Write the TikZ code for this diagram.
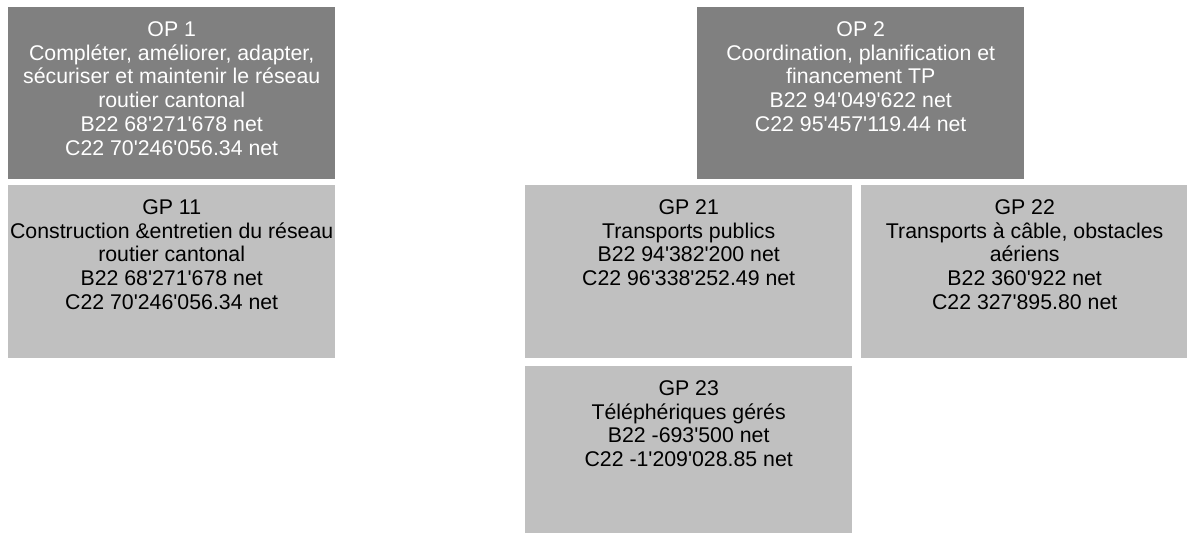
\documentclass[tikz,border=0pt]{standalone}
\usepackage{fontspec}
\setmainfont{Liberation Sans}[Ligatures=TeXOff]
\usetikzlibrary{positioning}

\definecolor{opgray}{HTML}{808080}
\definecolor{gpgray}{HTML}{C0C0C0}

\begin{document}
\begin{tikzpicture}[x=1pt, y=1pt,
    opbox/.style={fill=opgray, draw=none, anchor=north west, minimum width=327pt, minimum height=172pt, inner sep=0pt},
    gpbox/.style={fill=gpgray, draw=none, anchor=north west, minimum width=327pt, minimum height=173pt, inner sep=0pt},
    optext/.style={text=white, align=center, inner sep=0pt, font=\fontsize{21.3pt}{23.7pt}\selectfont},
    gptext/.style={text=black, align=center, inner sep=0pt, font=\fontsize{21.3pt}{23.7pt}\selectfont}]

            \useasboundingbox (0,0) rectangle (1187,-533);

            % Objectifs
            \node[opbox] (op1) at (8,-7) {};
            \node[opbox] (op2) at (697,-7) {};

            % Groupes de prestations
            \node[gpbox] (gp11) at (8,-185) {};
            \node[gpbox] (gp21) at (525,-185) {};
            \node[gpbox] (gp22) at (861,-185) {};
            \node[gpbox, minimum height=167pt] (gp23) at (525,-366) {};

            % Textes
            \node[optext, below=14.5pt of op1.north] (op1t) {OP 1\\Compléter, améliorer, adapter,\\sécuriser et maintenir le réseau\\routier cantonal\\B22 68'271'678 net\\C22 70'246'056.34 net};
            \node[optext, below=14.5pt of op2.north] (op2t) {OP 2\\Coordination, planification et\\financement TP\\B22 94'049'622 net\\C22 95'457'119.44 net};
            \node[gptext, below=14.5pt of gp11.north] (gp11t) {GP 11\\Construction \&entretien du réseau\\routier cantonal\\B22 68'271'678 net\\C22 70'246'056.34 net};
            \node[gptext, below=14.5pt of gp21.north] (gp21t) {GP 21\\Transports publics\\B22 94'382'200 net\\C22 96'338'252.49 net};
            \node[gptext, below=14.5pt of gp22.north] (gp22t) {GP 22\\Transports à câble, obstacles\\aériens\\B22 360'922 net\\C22 327'895.80 net};
            \node[gptext, below=14.5pt of gp23.north] (gp23t) {GP 23\\Téléphériques gérés\\B22 -693'500 net\\C22 -1'209'028.85 net};

        \end{tikzpicture}
\end{document}
